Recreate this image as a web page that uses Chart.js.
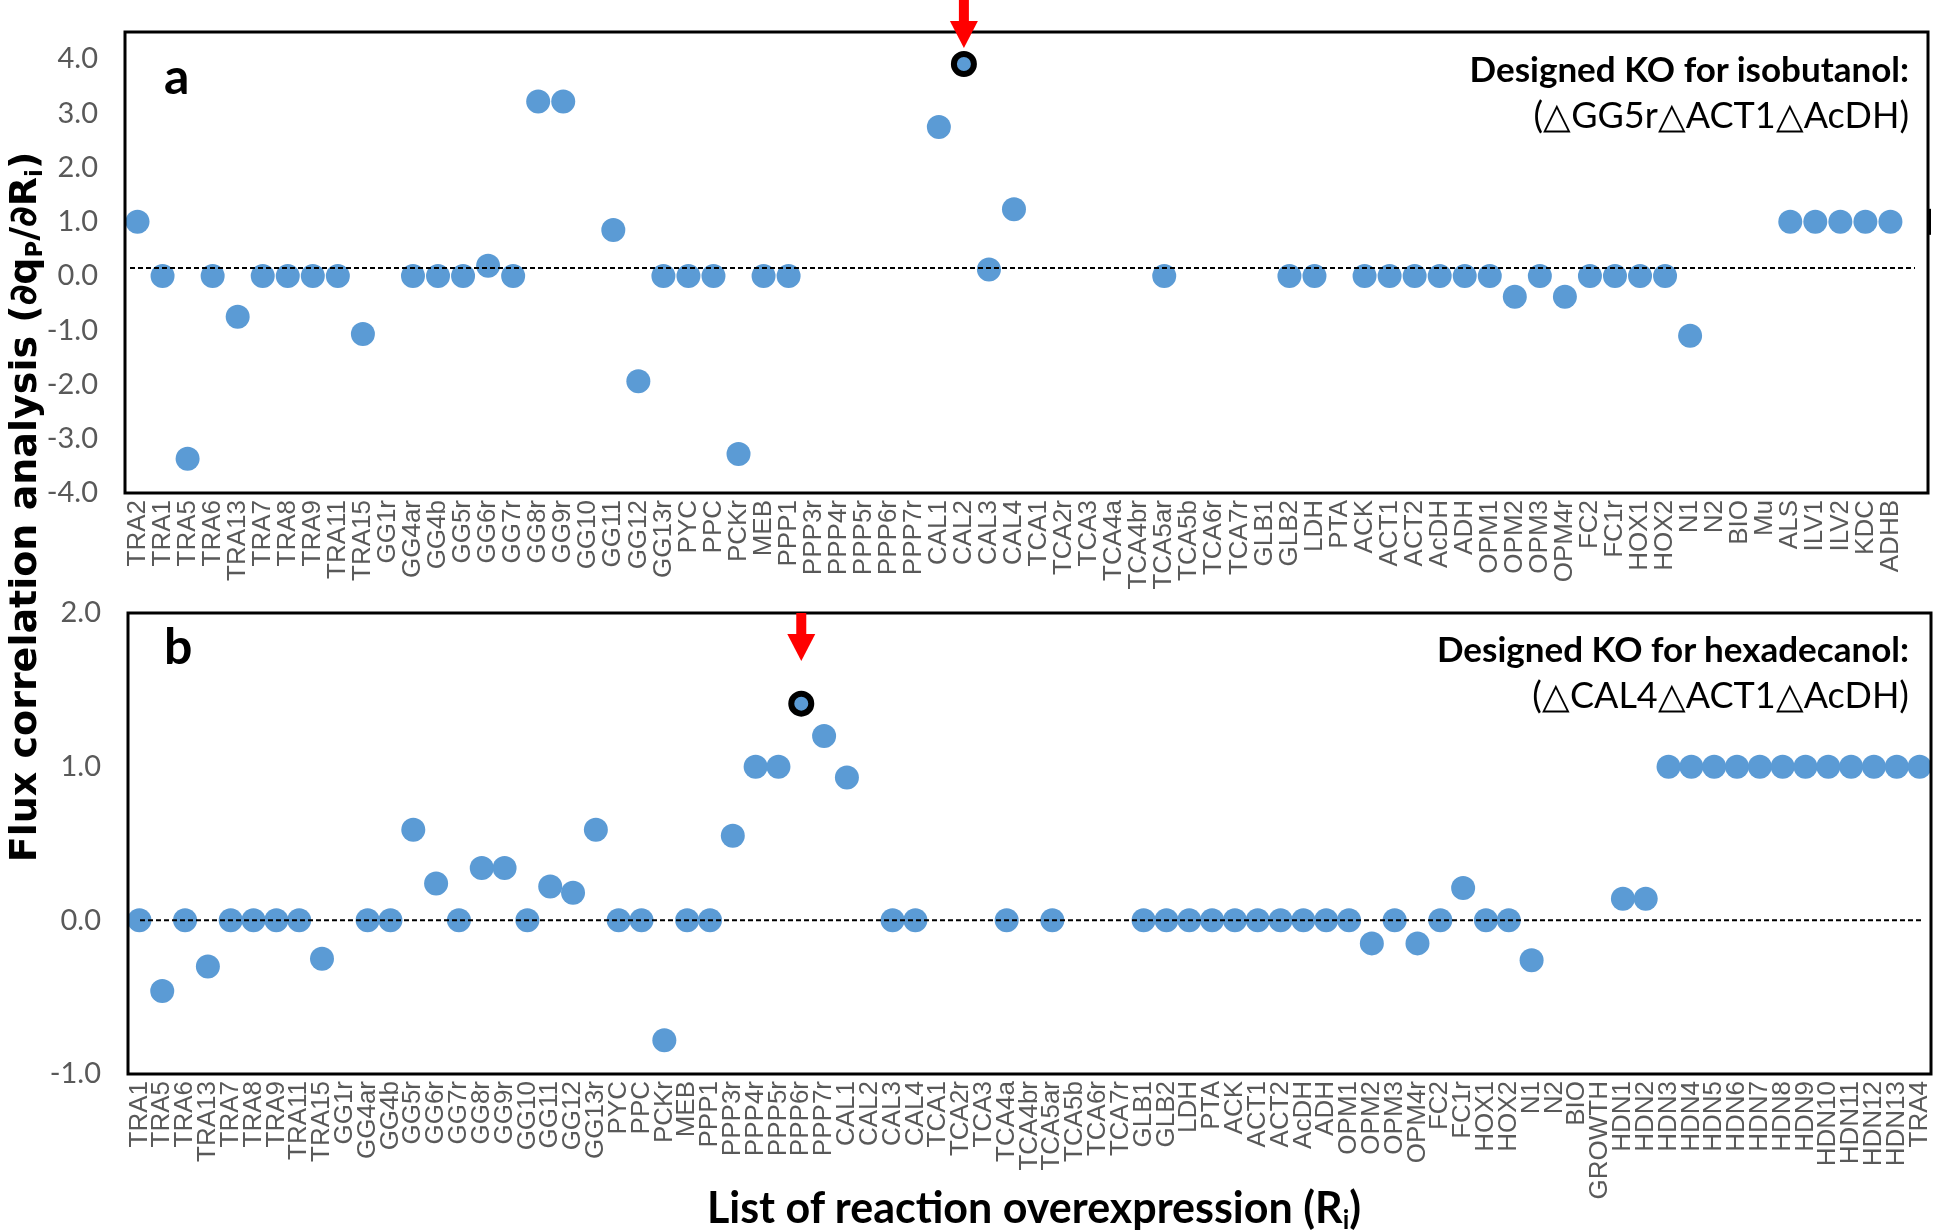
<!DOCTYPE html>
<html>
<head>
<meta charset="utf-8">
<script src="https://cdn.jsdelivr.net/npm/chart.js@4.4.1/dist/chart.umd.min.js"></script>
<style>
  html, body { margin: 0; padding: 0; background: #fff; }
  #page { position: relative; width: 1948px; height: 1232px; overflow: hidden; font-family: Lato, 'Open Sans', sans-serif; color: #000; }
  .wrap { position: absolute; left: 0; width: 1948px; }
  #wrap-a { top: 0; height: 590px; }
  #wrap-b { top: 585px; height: 615px; }
  .letter { position: absolute; left: 164px; font-size: 50px; font-weight: 700; line-height: 50px; }
  .note { position: absolute; right: 39px; height: 46px; line-height: 46px; text-align: right; font-size: 35px; white-space: nowrap; }
  .note.head { font-weight: 700; }
  .note.ko { font-size: 36px; }
  #ytitle { position: absolute; left: -377px; top: 484px; width: 800px; height: 46px; line-height: 46px; text-align: center;
            font-family: 'DejaVu Sans', Verdana, sans-serif; font-size: 38px; font-weight: 700; transform: rotate(-90deg); white-space: nowrap; }
  #xtitle { position: absolute; left: 434px; top: 1183px; width: 1200px; text-align: center; font-size: 43px; font-weight: 700; line-height: 48px; white-space: nowrap; }
  sub { font-size: 60%; vertical-align: -0.25em; line-height: 0; }
</style>
</head>
<body>
<div id="page">
  <div class="wrap" id="wrap-a"><canvas id="chart-a" width="1948" height="590"></canvas></div>
  <div class="wrap" id="wrap-b"><canvas id="chart-b" width="1948" height="615"></canvas></div>

  <div class="letter" style="top:50px">a</div>
  <div class="letter" style="top:620px">b</div>

  <div class="note head" style="top:45px">Designed KO for isobutanol:</div>
  <div class="note ko" style="top:91px">(△GG5r△ACT1△AcDH)</div>
  <div class="note head" style="top:625px">Designed KO for hexadecanol:</div>
  <div class="note ko" style="top:671px">(△CAL4△ACT1△AcDH)</div>

  <div id="ytitle">Flux correlation analysis (∂q<sub>P</sub>/∂R<sub>i</sub>)</div>
  <div id="xtitle">List of reaction overexpression (R<sub>i</sub>)</div>
</div>

<script>
// Données panneau a (isobutanol) - la dernière case vide correspond à la colonne libre à droite
const labelsA = ['TRA2', 'TRA1', 'TRA5', 'TRA6', 'TRA13', 'TRA7', 'TRA8', 'TRA9', 'TRA11', 'TRA15',
  'GG1r', 'GG4ar', 'GG4b', 'GG5r', 'GG6r', 'GG7r', 'GG8r', 'GG9r', 'GG10', 'GG11', 'GG12', 'GG13r',
  'PYC', 'PPC', 'PCKr', 'MEB', 'PPP1', 'PPP3r', 'PPP4r', 'PPP5r', 'PPP6r', 'PPP7r',
  'CAL1', 'CAL2', 'CAL3', 'CAL4', 'TCA1', 'TCA2r', 'TCA3', 'TCA4a', 'TCA4br', 'TCA5ar', 'TCA5b', 'TCA6r', 'TCA7r',
  'GLB1', 'GLB2', 'LDH', 'PTA', 'ACK', 'ACT1', 'ACT2', 'AcDH', 'ADH', 'OPM1', 'OPM2', 'OPM3', 'OPM4r',
  'FC2', 'FC1r', 'HOX1', 'HOX2', 'N1', 'N2', 'BIO', 'Mu', 'ALS', 'ILV1', 'ILV2', 'KDC', 'ADHB', ''];
const valuesA = [1.0, 0, -3.37, 0, -0.75, 0, 0, 0, 0, -1.07,
  null, 0, 0, 0, 0.19, 0, 3.22, 3.22, null, 0.85, -1.94, 0,
  0, 0, -3.28, 0, 0, null, null, null, null, null,
  2.75, 3.91, 0.12, 1.23, null, null, null, null, null, 0, null, null, null,
  null, 0, 0, null, 0, 0, 0, 0, 0, 0, -0.38, 0, -0.38,
  0, 0, 0, 0, -1.10, null, null, null, 1.0, 1.0, 1.0, 1.0, 1.0, null];
const ticksA = [-4, -3, -2, -1, 0, 1, 2, 3, 4];

// Données panneau b (hexadécanol)
const labelsB = ['TRA1', 'TRA5', 'TRA6', 'TRA13', 'TRA7', 'TRA8', 'TRA9', 'TRA11', 'TRA15',
  'GG1r', 'GG4ar', 'GG4b', 'GG5r', 'GG6r', 'GG7r', 'GG8r', 'GG9r', 'GG10', 'GG11', 'GG12', 'GG13r',
  'PYC', 'PPC', 'PCKr', 'MEB', 'PPP1', 'PPP3r', 'PPP4r', 'PPP5r', 'PPP6r', 'PPP7r',
  'CAL1', 'CAL2', 'CAL3', 'CAL4', 'TCA1', 'TCA2r', 'TCA3', 'TCA4a', 'TCA4br', 'TCA5ar', 'TCA5b', 'TCA6r', 'TCA7r',
  'GLB1', 'GLB2', 'LDH', 'PTA', 'ACK', 'ACT1', 'ACT2', 'AcDH', 'ADH', 'OPM1', 'OPM2', 'OPM3', 'OPM4r',
  'FC2', 'FC1r', 'HOX1', 'HOX2', 'N1', 'N2', 'BIO', 'GROWTH',
  'HDN1', 'HDN2', 'HDN3', 'HDN4', 'HDN5', 'HDN6', 'HDN7', 'HDN8', 'HDN9', 'HDN10', 'HDN11', 'HDN12', 'HDN13', 'TRA4'];
const valuesB = [0, -0.46, 0, -0.30, 0, 0, 0, 0, -0.25,
  null, 0, 0, 0.59, 0.24, 0, 0.34, 0.34, 0, 0.22, 0.18, 0.59,
  0, 0, -0.78, 0, 0, 0.55, 1.0, 1.0, 1.41, 1.20,
  0.93, null, 0, 0, null, null, null, 0, null, 0, null, null, null,
  0, 0, 0, 0, 0, 0, 0, 0, 0, 0, -0.15, 0, -0.15,
  0, 0.21, 0, 0, -0.26, null, null, null,
  0.14, 0.14, 1.0, 1.0, 1.0, 1.0, 1.0, 1.0, 1.0, 1.0, 1.0, 1.0, 1.0, 1.0];
const ticksB = [-1, 0, 1, 2];

// Points mis en évidence (flèche rouge)
const highlightA = labelsA.indexOf('CAL2');
const highlightB = labelsB.indexOf('PPP6r');

const dotColor = '#5B9BD5';
const tickGray = '#595959';

// Plugin : pointillés, cadre et flèche
const panelPlugin = {
  id: 'panelDecor',
  afterDatasetsDraw(chart, args, opts) {
    const { ctx, chartArea: a, scales } = chart;
    ctx.save();

    const yy = scales.y.getPixelForValue(opts.refLine);
    ctx.strokeStyle = '#000';
    ctx.lineWidth = 2;
    ctx.setLineDash([5, 3]);
    ctx.beginPath();
    ctx.moveTo(a.left + opts.lineInset[0], yy);
    ctx.lineTo(a.right - opts.lineInset[1], yy);
    ctx.stroke();
    ctx.setLineDash([]);

    ctx.lineWidth = 3;
    ctx.strokeRect(a.left, a.top, a.right - a.left, a.bottom - a.top);

    // petit trait sur le bord droit (panneau a)
    if (opts.edgeMark) {
      const ym = scales.y.getPixelForValue(opts.edgeMark.value);
      ctx.lineWidth = 4;
      ctx.beginPath();
      ctx.moveTo(a.right + 1, ym - opts.edgeMark.half);
      ctx.lineTo(a.right + 1, ym + opts.edgeMark.half);
      ctx.stroke();
    }

    const pt = chart.getDatasetMeta(0).data[opts.highlight];
    const tip = a.top + opts.arrow.tip;
    const top = a.top + opts.arrow.start;
    const headH = 27, headW = 28, shaftW = 10;
    ctx.fillStyle = '#FF0000';
    ctx.fillRect(pt.x - shaftW / 2, top, shaftW, tip - headH - top + 1);
    ctx.beginPath();
    ctx.moveTo(pt.x - headW / 2, tip - headH);
    ctx.lineTo(pt.x + headW / 2, tip - headH);
    ctx.lineTo(pt.x, tip);
    ctx.closePath();
    ctx.fill();
    ctx.restore();
  }
};

function buildPanel(canvasId, labels, values, ticks, yMin, yMax, hi, decor, layout) {
  const ctx = document.getElementById(canvasId);
  return new Chart(ctx, {
    type: 'line',
    data: {
      labels: labels,
      datasets: [{
        data: values,
        showLine: false,
        pointBackgroundColor: dotColor,
        pointBorderColor: c => c.dataIndex === hi ? '#000' : dotColor,
        pointBorderWidth: c => c.dataIndex === hi ? 6 : 0,
        pointRadius: c => c.dataIndex === hi ? 10 : 12,
        pointHoverRadius: c => c.dataIndex === hi ? 10 : 12,
      }]
    },
    options: {
      responsive: false,
      animation: false,
      events: [],
      layout: { padding: { left: 0, right: layout.right, top: layout.top, bottom: 0 } },
      scales: {
        x: {
          offset: true,
          grid: { display: false, drawTicks: false },
          border: { display: false },
          ticks: {
            autoSkip: false,
            maxRotation: 90,
            minRotation: 90,
            padding: 7,
            color: tickGray,
            font: { family: "'Liberation Sans', Arial, sans-serif", size: 26 }
          },
          afterFit: s => { s.height = layout.xHeight; s.paddingLeft = 0; s.paddingRight = 0; }
        },
        y: {
          min: yMin,
          max: yMax,
          grid: { display: false, drawTicks: false },
          border: { display: false },
          ticks: {
            padding: 27,
            color: tickGray,
            font: { family: "Lato, 'Open Sans', sans-serif", size: 29 },
            callback: v => Number(v).toFixed(1)
          },
          afterBuildTicks: s => { s.ticks = ticks.map(v => ({ value: v })); },
          afterFit: s => { s.width = layout.yWidth; s.paddingTop = 0; s.paddingBottom = 0; }
        }
      },
      plugins: {
        legend: { display: false },
        tooltip: { enabled: false },
        panelDecor: decor
      }
    },
    plugins: [panelPlugin]
  });
}

// Panneau a
buildPanel('chart-a', labelsA, valuesA, ticksA, -4, 4.5, highlightA,
  { refLine: 0.15, lineInset: [5, 13], highlight: highlightA, arrow: { start: -32, tip: 16 }, edgeMark: { value: 1, half: 13 } },
  { right: 20, top: 32, xHeight: 97, yWidth: 125 });

// Panneau b
buildPanel('chart-b', labelsB, valuesB, ticksB, -1, 2, highlightB,
  { refLine: 0, lineInset: [12, 7], highlight: highlightB, arrow: { start: 0, tip: 48 } },
  { right: 17, top: 28, xHeight: 126, yWidth: 128 });
</script>
</body>
</html>
